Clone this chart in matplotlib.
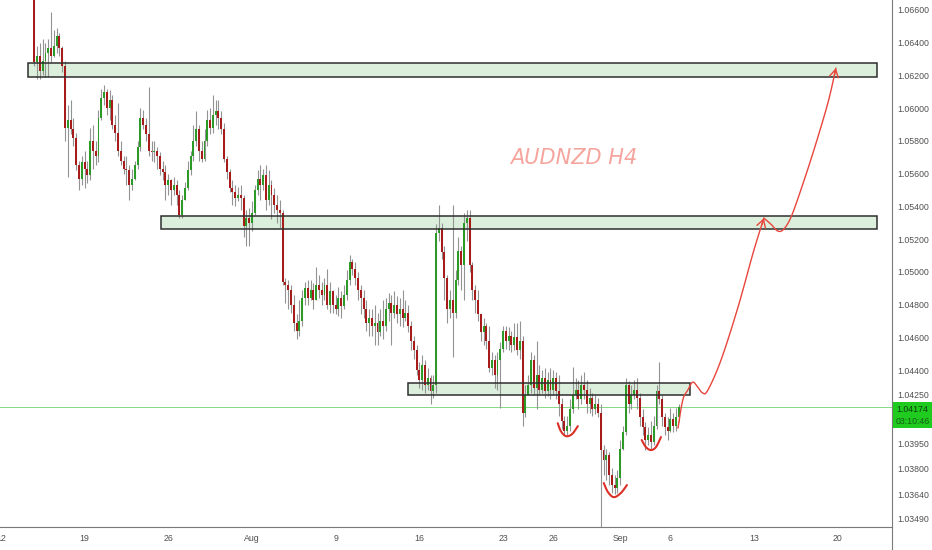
import numpy as np
import matplotlib
matplotlib.use("Agg")
import matplotlib.pyplot as plt
from matplotlib.patches import Rectangle
from matplotlib.lines import Line2D

plt.rcParams['font.family'] = ['Liberation Sans', 'DejaVu Sans']

# ---------------- data (H4 bars, prices in 1e-4 units) ----------------
first_index = 12
first_open = 10671
closes = [
    10628,10632,10623,10629,10634,10637,10632,10638,10644,10637,
    10626,10588,10593,10587,10582,10565,10557,10567,10563,10559,
    10580,10574,10571,10594,10606,10610,10600,10605,10590,10585,
    10574,10568,10563,10562,10553,10557,10565,10576,10594,10590,
    10584,10574,10573,10574,10571,10563,10561,10553,10556,10550,
    10553,10547,10535,10544,10551,10562,10571,10580,10587,10574,
    10569,10580,10593,10588,10596,10598,10594,10587,10569,10561,
    10551,10549,10545,10547,10545,10528,10533,10530,10536,10550,
    10557,10553,10559,10544,10553,10547,10541,10538,10536,10494,
    10492,10489,10480,10469,10464,10470,10484,10490,10484,10489,
    10483,10492,10489,10486,10492,10480,10488,10480,10477,10484,
    10479,10486,10495,10506,10502,10496,10489,10484,10477,10469,
    10472,10467,10469,10463,10470,10467,10477,10481,10475,10480,
    10474,10477,10472,10475,10467,10458,10452,10440,10434,10443,
    10431,10435,10427,10431,10524,10527,10512,10496,10477,10483,
    10475,10495,10513,10504,10530,10533,10504,10489,10483,10474,
    10463,10467,10458,10441,10446,10437,10446,10453,10464,10458,
    10461,10455,10460,10452,10458,10414,10425,10431,10446,10429,
    10437,10428,10435,10427,10434,10428,10435,10427,10419,10409,
    10403,10406,10416,10425,10428,10422,10431,10428,10419,10423,
    10416,10419,10414,10391,10385,10388,10376,10370,10368,10374,
    10392,10402,10431,10419,10425,10428,10423,10411,10405,10397,
    10400,10396,10406,10427,10422,10411,10405,10403,10410,10406,
    10411,10417.4,
]
highs = [
    10671,10638,10640,10642,10640,10642,10659,10648,10649,10646,
    10638,10629,10602,10605,10594,10585,10568,10571,10574,10568,
    10588,10590,10580,10599,10612,10614,10612,10611,10608,10596,
    10603,10580,10571,10571,10565,10563,10568,10580,10600,10599,
    10594,10613,10580,10580,10576,10573,10568,10565,10560,10557,
    10558,10556,10550,10547,10555,10568,10574,10590,10598,10590,
    10580,10587,10599,10600,10608,10605,10605,10598,10591,10571,
    10563,10556,10553,10552,10553,10547,10538,10539,10543,10553,
    10562,10565,10563,10565,10562,10556,10551,10547,10544,10538,
    10496,10495,10492,10486,10474,10483,10489,10494,10495,10495,
    10493,10503,10498,10494,10496,10502,10494,10489,10486,10491,
    10488,10492,10501,10510,10508,10506,10500,10492,10489,10483,
    10477,10477,10480,10475,10477,10483,10484,10487,10486,10488,
    10485,10484,10489,10483,10480,10470,10461,10455,10445,10449,
    10446,10441,10437,10437,10529,10541,10530,10516,10498,10489,
    10541,10501,10521,10516,10536,10538,10538,10506,10492,10489,
    10474,10472,10469,10467,10451,10449,10451,10457,10467,10467,
    10466,10464,10469,10469,10470,10461,10431,10437,10451,10449,
    10458,10443,10440,10441,10439,10441,10440,10439,10437,10423,
    10412,10412,10422,10442,10435,10434,10437,10439,10434,10429,
    10426,10425,10423,10419,10394,10392,10390,10380,10376,10379,
    10397,10406,10435,10433,10431,10434,10435,10426,10416,10408,
    10405,10409,10412,10431,10445,10425,10414,10411,10417,10414,
    10417,10419,
]
lows = [
    10626,10618,10618,10620,10619,10619,10628,10631,10634,10632,
    10622,10580,10558,10584,10577,10562,10550,10553,10551,10554,
    10556,10563,10565,10567,10593,10602,10596,10593,10587,10580,
    10571,10565,10560,10553,10544,10550,10556,10563,10574,10587,
    10580,10571,10568,10567,10563,10559,10556,10544,10547,10541,
    10547,10541,10533,10533,10544,10550,10559,10568,10577,10568,
    10567,10568,10577,10584,10585,10590,10587,10584,10567,10557,
    10549,10541,10540,10543,10538,10521,10516,10516,10525,10535,
    10547,10544,10550,10538,10541,10532,10536,10530,10527,10492,
    10481,10477,10475,10464,10459,10461,10467,10480,10480,10483,
    10477,10483,10484,10480,10483,10477,10475,10475,10474,10473,
    10472,10477,10483,10492,10498,10492,10483,10474,10472,10464,
    10461,10461,10455,10455,10461,10459,10464,10470,10455,10472,
    10469,10467,10466,10470,10463,10452,10447,10437,10429,10428,
    10426,10428,10419,10423,10426,10519,10508,10483,10469,10472,
    10448,10472,10492,10489,10483,10519,10500,10483,10475,10470,
    10458,10455,10453,10439,10437,10429,10428,10417,10451,10453,
    10452,10451,10452,10449,10447,10406,10411,10425,10426,10425,
    10416,10425,10426,10423,10424,10422,10425,10422,10412,10404,
    10400,10400,10403,10414,10422,10416,10419,10422,10414,10414,
    10412,10413,10411,10344,10376,10373,10370,10365,10364,10365,
    10370,10391,10400,10414,10416,10422,10416,10406,10400,10391,
    10394,10392,10394,10404,10419,10406,10400,10397,10402,10402,
    10403,10408,
]

# x-axis labels (bar index of each label)
tick_pos = [0, 30, 60, 90, 120, 150, 180, 198, 222, 240, 270, 300]
tick_lbl = ["12", "19", "26", "Aug", "9", "16", "23", "26", "Sep", "6", "13", "20"]

# right price scale
price_ticks = [1.066, 1.064, 1.062, 1.060, 1.058, 1.056, 1.054, 1.052, 1.050,
               1.048, 1.046, 1.044, 1.0425, 1.0395, 1.0380, 1.0364, 1.0349]
last_price = 1.04174
countdown = "03:10:46"

# supply / demand zones
zone_x0 = [9.7, 57.3, 145.9]
zone_x1 = [314.0, 314.0, 247.0]
zone_lo = [1.06190, 1.05262, 1.04247]
zone_hi = [1.06276, 1.05340, 1.04320]

# projected path (bar index, price)
path_x = [242.7, 244.4, 246.2, 248.0, 249.8, 251.6, 253.4, 258.1, 264.2, 269.9, 273.5,
          276.0, 278.5, 280.6, 283.2, 286.7, 291.4, 296.4, 299.3]
path_y = [1.04045, 1.04216, 1.04277, 1.04326, 1.04295, 1.04259, 1.04277, 1.04460, 1.04784,
          1.05132, 1.05328, 1.05291, 1.05249, 1.05261, 1.05334, 1.05499, 1.05744, 1.06031, 1.06245]

# bottoms highlighted
smile_x = [[199.6, 200.7, 202.5, 204.7, 206.8],
           [216.1, 217.6, 219.7, 222.2, 224.4],
           [229.7, 231.2, 233.0, 234.8, 236.6]]
smile_y = [[1.04075, 1.04027, 1.03996, 1.04008, 1.04057],
           [1.03709, 1.03654, 1.03623, 1.03648, 1.03697],
           [1.03972, 1.03929, 1.03911, 1.03929, 1.03990]]

# ---------------- figure ----------------
W, H = 932, 550
fig = plt.figure(figsize=(W / 100, H / 100), dpi=100)
fig.patch.set_facecolor("white")
ax = fig.add_axes([0, 23 / H, 892 / W, 527 / H])
ax.set_facecolor("white")

closes_a = np.array(closes, dtype=float) / 1e4
highs_a = np.array(highs, dtype=float) / 1e4
lows_a = np.array(lows, dtype=float) / 1e4
n = len(closes_a)
idx = np.arange(first_index, first_index + n)
opens_a = np.concatenate([[first_open / 1e4], closes_a[:-1]])
highs_a = np.maximum(highs_a, np.maximum(opens_a, closes_a))
lows_a = np.minimum(lows_a, np.minimum(opens_a, closes_a))
up = closes_a >= opens_a

GREEN = "#2c9a26"
RED = "#a81b1b"
ZONE_FC = "#dcefdc"
PATH_C = "#e8453c"

# zones fill
for x0, x1, lo, hi in zip(zone_x0, zone_x1, zone_lo, zone_hi):
    ax.add_patch(Rectangle((x0, lo), x1 - x0, hi - lo, facecolor=ZONE_FC,
                           edgecolor="none", zorder=1))

# candles
ax.vlines(idx, lows_a, highs_a, color="#939393", lw=0.8, zorder=2)
body = closes_a - opens_a
body = np.where(np.abs(body) < 0.00002, np.where(up, 0.00002, -0.00002), body)
ax.bar(idx, body, bottom=opens_a, width=0.7,
       color=np.where(up, GREEN, RED), linewidth=0, zorder=3)

# zone edges
for x0, x1, lo, hi in zip(zone_x0, zone_x1, zone_lo, zone_hi):
    ax.add_patch(Rectangle((x0, lo), x1 - x0, hi - lo, facecolor="none",
                           edgecolor="#2e2e2e", lw=1.1, zorder=4))

# current price line
ax.axhline(last_price, color="#86d886", lw=0.7, zorder=1.5)


def catmull(xs, ys, k=10):
    P = np.column_stack([xs, ys])
    P = np.vstack([P[0], P, P[-1]])
    out = []
    for i in range(1, len(P) - 2):
        p0, p1, p2, p3 = P[i - 1], P[i], P[i + 1], P[i + 2]
        for t in np.linspace(0, 1, k, endpoint=False):
            t2, t3 = t * t, t * t * t
            out.append(0.5 * ((2 * p1) + (-p0 + p2) * t + (2 * p0 - 5 * p1 + 4 * p2 - p3) * t2
                              + (-p0 + 3 * p1 - 3 * p2 + p3) * t3))
    out.append(P[-2])
    return np.array(out)


tip1 = 10
seg1 = catmull(path_x[:tip1 + 1], path_y[:tip1 + 1])
seg2 = catmull(path_x[tip1:], path_y[tip1:])
ax.plot(seg1[:, 0], seg1[:, 1], color=PATH_C, lw=1.0, zorder=5, solid_capstyle="round")
ax.plot(seg2[:, 0], seg2[:, 1], color=PATH_C, lw=1.0, zorder=5, solid_capstyle="round")
for seg in (seg1, seg2):
    ax.annotate("", xy=(seg[-1, 0], seg[-1, 1]), xytext=(seg[-4, 0], seg[-4, 1]),
                arrowprops=dict(arrowstyle="->,head_length=0.55,head_width=0.32",
                                color=PATH_C, lw=1.0, shrinkA=0, shrinkB=0), zorder=5)

for sx, sy in zip(smile_x, smile_y):
    s = catmull(sx, sy)
    ax.plot(s[:, 0], s[:, 1], color="#dc2f28", lw=1.5, zorder=5, solid_capstyle="round")

ax.text(205.4, 1.05695, "AUDNZD H4", color="#f5a59d", fontsize=15, style="italic",
        ha="center", va="center", family=["DejaVu Sans"], zorder=1.2)

# axes
ax.set_xlim(-0.3, 319.4)
ax.set_ylim(1.034406, 1.066611)
ax.set_xticks(tick_pos)
ax.set_xticklabels(tick_lbl)
ax.yaxis.tick_right()
ax.set_yticks(price_ticks)
ax.set_yticklabels([f"{p:.5f}" for p in price_ticks])
ax.tick_params(axis="y", length=0, pad=4, labelsize=6.3, labelcolor="#505050")
ax.tick_params(axis="x", length=0, pad=5, labelsize=6.3, labelcolor="#505050")
for s in ("top", "left"):
    ax.spines[s].set_visible(False)
for s in ("right", "bottom"):
    ax.spines[s].set_color("#7a7a7a")
    ax.spines[s].set_linewidth(0.8)

fig.add_artist(Line2D([892 / W, 892 / W], [0, 23 / H], transform=fig.transFigure,
                      color="#7a7a7a", lw=0.8))

# last price label
fig.add_artist(Rectangle((893 / W, (H - 428) / H), 39 / W, 26 / H, transform=fig.transFigure,
                         facecolor="#1ecb1e", edgecolor="none"))
fig.text(896 / W, (H - 409) / H, f"{last_price:.5f}", fontsize=6.3, color="#0f3d0f",
         ha="left", va="center")
fig.text(896 / W, (H - 421) / H, countdown, fontsize=6.3, color="#155c15",
         ha="left", va="center")

fig.savefig("out.png", dpi=100, facecolor="white")
